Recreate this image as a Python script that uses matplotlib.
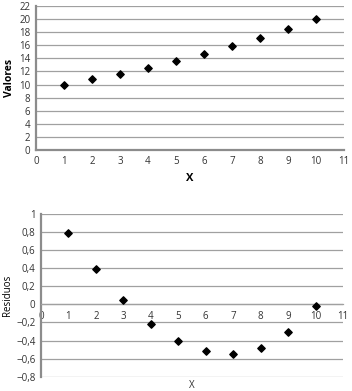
import numpy as np
import matplotlib.pyplot as plt

# Datos
x = [1, 2, 3, 4, 5, 6, 7, 8, 9, 10]
valores = [10.0, 10.8, 11.65, 12.6, 13.6, 14.7, 15.9, 17.15, 18.55, 20.0]
residuos = [0.79, 0.39, 0.05, -0.22, -0.41, -0.52, -0.55, -0.48, -0.31, -0.02]

plt.rcParams['font.family'] = ['Open Sans', 'DejaVu Sans']
plt.rcParams['font.size'] = 7

fig = plt.figure(figsize=(3.52, 3.91), dpi=100)

# Grafico de valores
ax1 = fig.add_axes([36/352, 1-150/391, 308/352, 144/391])
ax1.scatter(x, valores, marker='D', s=14, color='black', zorder=3)
ax1.set_xlim(0, 11)
ax1.set_ylim(0, 22)
ax1.set_xticks(range(0, 12))
ax1.set_yticks(range(0, 23, 2))
ax1.grid(axis='y', color='#a0a0a0', linewidth=0.9)
ax1.set_axisbelow(True)
for s in ['top', 'right']:
    ax1.spines[s].set_visible(False)
for s in ['left', 'bottom']:
    ax1.spines[s].set_color('#8c8c8c')
    ax1.spines[s].set_linewidth(1.6)
ax1.tick_params(length=0, pad=4, colors='#333333')
ax1.set_xlabel('X', fontweight='bold', fontsize=8, labelpad=5)
ax1.set_ylabel('Valores', fontweight='bold', fontsize=7.5, labelpad=3)

# Grafico de residuos
ax2 = fig.add_axes([41/352, 1-376.7/391, 302/352, 162.7/391])
ax2.scatter(x, residuos, marker='D', s=14, color='black', zorder=3)
ax2.set_xlim(0, 11)
ax2.set_ylim(-0.8, 1)
ax2.set_xticks(range(0, 12))
yt = np.round(np.arange(-0.8, 1.01, 0.2), 1) + 0.0
etiquetas = []
for v in yt:
    if abs(v) < 1e-9:
        etiquetas.append('0')
    else:
        etiquetas.append(('%g' % v).replace('.', ',').replace('-', '\u2212'))
ax2.set_yticks(yt)
ax2.set_yticklabels(etiquetas)
ax2.grid(axis='y', color='#a0a0a0', linewidth=0.9)
ax2.set_axisbelow(True)
for s in ['top', 'right']:
    ax2.spines[s].set_visible(False)
ax2.spines['bottom'].set_position(('data', 0))
ax2.spines['bottom'].set_color('#a0a0a0')
ax2.spines['bottom'].set_linewidth(0.9)
ax2.spines['left'].set_color('#8c8c8c')
ax2.spines['left'].set_linewidth(1.6)
ax2.tick_params(axis='x', length=0, pad=5, colors='#333333')
ax2.tick_params(axis='y', length=0, pad=4, colors='#333333')
ax2.set_ylabel('Residuos', fontsize=7, labelpad=2)
fig.text(192/352, 1-385/391, 'X', ha='center', va='center', fontsize=7, color='#333333')

fig.savefig('out.png', dpi=100)
